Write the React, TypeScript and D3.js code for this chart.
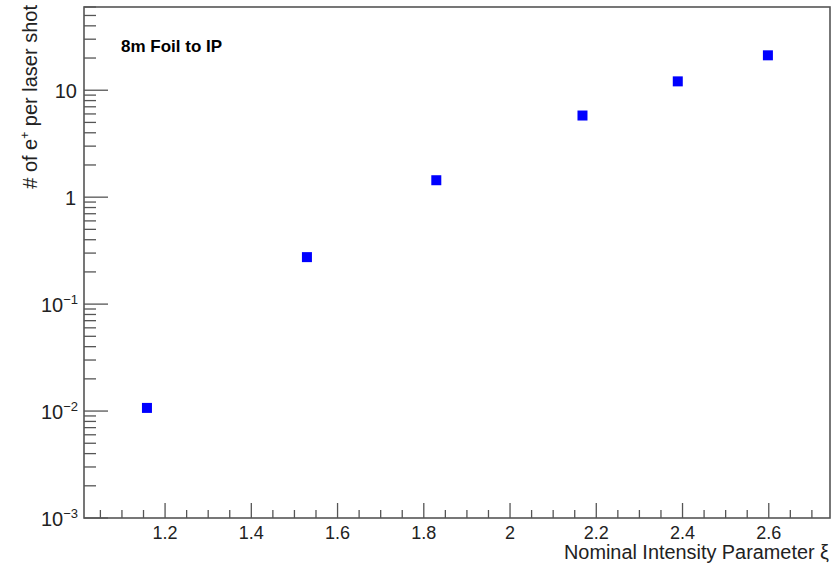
import React from "react";
import * as d3 from "d3";

// Positron yield per laser shot versus nominal intensity parameter
const xiValues = [1.158, 1.529, 1.829, 2.168, 2.389, 2.598];
const yieldValues = [0.0107, 0.275, 1.44, 5.8, 12.1, 21.2];

const xMajorTicks = [1.2, 1.4, 1.6, 1.8, 2.0, 2.2, 2.4, 2.6];
const xTickLabels = ["1.2", "1.4", "1.6", "1.8", "2", "2.2", "2.4", "2.6"];
const yDecades = [-3, -2, -1, 0, 1];

const W = 833;
const H = 564;
const left = 84;
const right = 830;
const top = 7;
const bottom = 518;

export default function App() {
  const x = d3.scaleLinear().domain([1.012, 2.742]).range([left, right]);
  const y = d3.scaleLog().domain([1e-3, 60]).range([bottom, top]);

  // minor ticks every 0.05 along x
  const xMinor: number[] = d3
    .range(21, 55)
    .map((i) => i * 0.05)
    .filter((v) => v >= 1.012 && v <= 2.742 && Math.abs(v * 5 - Math.round(v * 5)) > 1e-6);

  // minor ticks at 2..9 of each decade along y
  const yMinor: number[] = [];
  for (let k = -3; k <= 1; k++) {
    for (let m = 2; m <= 9; m++) {
      const v = m * Math.pow(10, k);
      if (v <= 60) yMinor.push(v);
    }
  }

  const axisColor = "#555";
  const font = "'Liberation Sans', Arial, Helvetica, sans-serif";
  const markerSize = 10;

  return (
    <svg
      width={W}
      height={H}
      style={{ position: "absolute", left: 0, top: 0, background: "#fff" }}
      fontFamily={font}
    >
      <rect x={0} y={0} width={W} height={H} fill="#fff" />
      {/* frame */}
      <rect
        x={left}
        y={top}
        width={right - left}
        height={bottom - top}
        fill="none"
        stroke={axisColor}
        strokeWidth={1.6}
      />

      {/* x ticks */}
      {xMajorTicks.map((t) => (
        <line key={"xM" + t} x1={x(t)} x2={x(t)} y1={bottom} y2={bottom - 15} stroke={axisColor} strokeWidth={1.3} />
      ))}
      {xMinor.map((t) => (
        <line key={"xm" + t} x1={x(t)} x2={x(t)} y1={bottom} y2={bottom - 8} stroke={axisColor} strokeWidth={1.3} />
      ))}
      {xMajorTicks.map((t, i) => (
        <text key={"xl" + t} x={x(t)} y={539} fontSize={18} textAnchor="middle" fill="#222">
          {xTickLabels[i]}
        </text>
      ))}

      {/* y ticks */}
      {yDecades.map((k) => (
        <line
          key={"yM" + k}
          x1={left}
          x2={left + 24}
          y1={y(Math.pow(10, k))}
          y2={y(Math.pow(10, k))}
          stroke={axisColor}
          strokeWidth={1.3}
        />
      ))}
      {yMinor.map((v) => (
        <line key={"ym" + v} x1={left} x2={left + 12} y1={y(v)} y2={y(v)} stroke={axisColor} strokeWidth={1.3} />
      ))}
      {yDecades.map((k) => {
        const yy = y(Math.pow(10, k)) + 7.5;
        if (k === 0) {
          return (
            <text key={"yl" + k} x={76} y={yy} fontSize={20} textAnchor="end" fill="#222">
              1
            </text>
          );
        }
        if (k === 1) {
          return (
            <text key={"yl" + k} x={77} y={yy} fontSize={20} textAnchor="end" fill="#222">
              10
            </text>
          );
        }
        return (
          <text key={"yl" + k} x={78} y={yy} fontSize={20} textAnchor="end" fill="#222">
            10
            <tspan fontSize={13} dy={-8}>
              {"\u2212" + Math.abs(k)}
            </tspan>
          </text>
        );
      })}

      {/* data markers */}
      {xiValues.map((xi, i) => (
        <rect
          key={"pt" + i}
          x={x(xi) - markerSize / 2}
          y={y(yieldValues[i]) - markerSize / 2}
          width={markerSize}
          height={markerSize}
          fill="#0000ff"
        />
      ))}

      {/* label */}
      <text x={121} y={52} fontSize={17} fontWeight="bold" fill="#000">
        8m Foil to IP
      </text>

      {/* axis titles */}
      <text x={829} y={559} fontSize={20} textLength={265} lengthAdjust="spacingAndGlyphs" textAnchor="end" fill="#222">
        Nominal Intensity Parameter ξ
      </text>
      <text transform="translate(37,5) rotate(-90)" fontSize={20} textAnchor="end" fill="#222">
        # of e
        <tspan fontSize={12} dy={-8}>
          +
        </tspan>
        <tspan dy={8}> per laser shot</tspan>
      </text>
    </svg>
  );
}
